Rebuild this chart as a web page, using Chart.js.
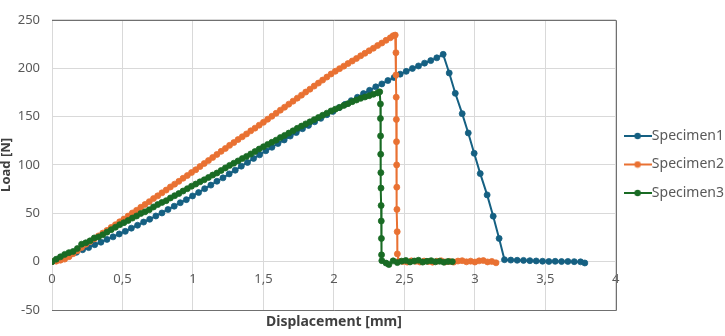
<!DOCTYPE html>
<html>
<head>
<meta charset="utf-8">
<script src="https://cdn.jsdelivr.net/npm/chart.js@4.4.1/dist/chart.umd.min.js"></script>
<style>
  html, body { margin: 0; padding: 0; background: #fff; overflow: hidden; }
  #wrap { width: 734px; height: 336px; position: relative; }
</style>
</head>
<body>
<div id="wrap"><canvas id="chart"></canvas></div>
<script>
const seriesNames = ["Specimen1", "Specimen2", "Specimen3"];
const seriesColors = ["#156082", "#E97132", "#196B24"];

const xTickLabels = ["0", "0,5", "1", "1,5", "2", "2,5", "3", "3,5", "4"];
const yTickValues = [-50, 0, 50, 100, 150, 200, 250];

// Specimen1
const s1x = [0, 0.043, 0.087, 0.13, 0.173, 0.217, 0.26, 0.303, 0.347, 0.39, 0.433, 0.477, 0.52, 0.563, 0.607,
  0.65, 0.693, 0.737, 0.78, 0.823, 0.867, 0.91, 0.953, 0.997, 1.04, 1.083, 1.127, 1.17, 1.213, 1.257, 1.3,
  1.343, 1.387, 1.43, 1.473, 1.517, 1.56, 1.603, 1.647, 1.69, 1.733, 1.777, 1.82, 1.863, 1.907, 1.95, 1.993,
  2.037, 2.08, 2.123, 2.167, 2.21, 2.253, 2.297, 2.34, 2.383, 2.427, 2.47, 2.513, 2.557, 2.6, 2.643, 2.687,
  2.73, 2.775,
  2.818, 2.861, 2.91, 2.953, 2.995, 3.038, 3.087, 3.13, 3.172, 3.21,
  3.255, 3.3, 3.345, 3.39, 3.435, 3.48, 3.525, 3.57, 3.615, 3.66, 3.705, 3.75, 3.78];
const s1y = [0, 2.3, 4.8, 7.4, 9.6, 12.3, 14.5, 17.5, 20.1, 23, 25.6, 28.6, 31.3, 34.6, 37.6,
  40.9, 43.8, 47.2, 50.3, 53.9, 57.3, 60.9, 64.1, 67.9, 71.4, 75.4, 79.1, 83.1, 86.6, 90.7, 94.5,
  98.7, 102.5, 106.7, 110.4, 114.6, 118.2, 122.1, 125.8, 129.8, 133.4, 137.4, 140.8, 144.6, 148.1, 151.9, 155.3,
  159.2, 162.6, 166.4, 169.9, 173.7, 177.1, 180.7, 183.7, 187.2, 190.3, 193.8, 196.7, 199.7, 202.3, 205.2, 207.8,
  210.7, 214.3,
  195, 174, 153, 133, 112, 91, 69, 47, 24, 2,
  1.6, 1.4, 1.3, 1, 0.7, 0.4, 0.2, 0.3, 0.1, 0.2, 0, -0.2, -1.4];

// Specimen2
const s2x = [0, 0.03, 0.06, 0.09, 0.12, 0.15, 0.18, 0.21, 0.24, 0.27, 0.3, 0.33, 0.36, 0.39, 0.42, 0.45, 0.48,
  0.51, 0.54, 0.57, 0.6, 0.63, 0.66, 0.69, 0.72, 0.75, 0.78, 0.81, 0.84, 0.87, 0.9, 0.93, 0.96, 0.99,
  1.02, 1.05, 1.08, 1.11, 1.14, 1.17, 1.2, 1.23, 1.26, 1.29, 1.32, 1.35, 1.38, 1.41, 1.44, 1.47, 1.5,
  1.53, 1.56, 1.59, 1.62, 1.65, 1.68, 1.71, 1.74, 1.77, 1.8, 1.83, 1.86, 1.89, 1.92, 1.95, 1.98,
  2.01, 2.04, 2.07, 2.1, 2.13, 2.16, 2.19, 2.22, 2.25, 2.28, 2.31, 2.34, 2.37, 2.4, 2.42, 2.435,
  2.44, 2.44, 2.442, 2.443, 2.444, 2.445, 2.446, 2.447, 2.449, 2.45, 2.46,
  2.49, 2.52, 2.55, 2.58, 2.61, 2.64, 2.67, 2.7, 2.73, 2.76, 2.79, 2.82, 2.85, 2.88, 2.91, 2.94,
  2.97, 3, 3.03, 3.06, 3.09, 3.12, 3.15];
const s2y = [0, 0.5, 1.5, 2.6, 5, 8.2, 11.3, 14.6, 18, 20.8, 23.5, 26.6, 29.5, 32.3, 35.4, 38.2, 41.2,
  44, 47.1, 50.3, 53, 56.2, 59.1, 62, 65.2, 68, 71.1, 74, 77.2, 80.1, 83, 86.2, 89, 92.1,
  95, 98.3, 101.4, 104.5, 107.7, 110.8, 114, 117, 120.2, 123.1, 126.2, 129.1, 132, 135.2, 138, 141.1, 144,
  147.2, 150.3, 153.4, 156.6, 159.6, 162.8, 165.9, 169, 172.1, 175.3, 178.3, 181.5, 184.6, 187.7, 190.8, 194,
  196.8, 199.5, 202.1, 204.8, 207.4, 210, 212.8, 215.4, 218, 220.6, 223.4, 226, 228.8, 231.4, 233.5, 234.2,
  216, 193, 170, 147, 124, 100, 77, 54, 31, 8, 0.5,
  0.2, -0.5, 0.8, 0.3, -0.4, 0.6, 0.1, -0.6, 0.4, 0.9, -0.3, 0.2, -0.5, 0.6, 1, -0.2,
  0.5, -0.4, 0.8, 1.1, -0.3, 0.2, -1.2];

// Specimen3
const s3x = [0, 0.03, 0.06, 0.09, 0.12, 0.15, 0.18, 0.21, 0.24, 0.27, 0.3, 0.33, 0.36, 0.39, 0.42, 0.45, 0.48,
  0.51, 0.54, 0.57, 0.6, 0.63, 0.66, 0.69, 0.72, 0.75, 0.78, 0.81, 0.84, 0.87, 0.9, 0.93, 0.96, 0.99,
  1.02, 1.05, 1.08, 1.11, 1.14, 1.17, 1.2, 1.23, 1.26, 1.29, 1.32, 1.35, 1.38, 1.41, 1.44, 1.47, 1.5,
  1.53, 1.56, 1.59, 1.62, 1.65, 1.68, 1.71, 1.74, 1.77, 1.8, 1.83, 1.86, 1.89, 1.92, 1.95, 1.98,
  2.01, 2.04, 2.07, 2.1, 2.13, 2.16, 2.19, 2.22, 2.25, 2.28, 2.31, 2.325,
  2.33, 2.33, 2.331, 2.332, 2.333, 2.334, 2.335, 2.336, 2.337, 2.338, 2.34,
  2.37, 2.39, 2.42, 2.45, 2.48, 2.51, 2.54, 2.57, 2.6, 2.63, 2.66, 2.69, 2.72, 2.75, 2.78, 2.81, 2.84];
const s3y = [0, 2.5, 5, 7.5, 9.3, 10.5, 13.5, 18, 19.5, 21.5, 24.5, 25.5, 27.8, 30.5, 33, 35.5, 38.2,
  40.3, 42.5, 45, 47.2, 49.8, 51.5, 53.6, 56.5, 59, 61.2, 63, 65.8, 68.2, 70.4, 73, 75.4, 78,
  80.2, 82.5, 84.6, 87, 89.5, 91.6, 94.2, 96.9, 99.5, 101.8, 104.1, 106.5, 108.8, 111.3, 113.8, 116.4, 118.8,
  121.2, 123.4, 125.6, 128.2, 130.5, 132.9, 135.2, 137.8, 140.1, 142.4, 144.5, 146.8, 149, 151.3, 153.5, 155.8,
  157.6, 159.4, 161.5, 163.3, 165.4, 167.1, 168.8, 170.2, 171.5, 173, 174.4, 175.5,
  163, 148, 130, 111, 92, 76, 58, 42, 24, 7, 1,
  -1.5, -3, 0.8, -1, 0.5, 1.2, -0.3, 0.6, 1.4, -0.5, 0.3, 1, -0.2, 0.4, -0.6, 0.2, 0];

const seriesX = [s1x, s2x, s3x];
const seriesY = [s1y, s2y, s3y];

const fontFamily = "'Noto Sans', 'Open Sans', sans-serif";

function legendIcon(color) {
  const c = document.createElement("canvas");
  c.width = 28;
  c.height = 8;
  const g = c.getContext("2d");
  g.strokeStyle = color;
  g.lineWidth = 2;
  g.beginPath();
  g.moveTo(0, 4);
  g.lineTo(28, 4);
  g.stroke();
  g.fillStyle = color;
  g.beginPath();
  g.arc(14, 4, 3.2, 0, Math.PI * 2);
  g.fill();
  return c;
}

// dark frame on top, right and bottom of the plot area
const plotFrame = {
  id: "plotFrame",
  afterLayout(chart) {
    // legend sits a bit higher than the centre of its box
    if (chart.legend) chart.legend.bottom = 318;
  },
  beforeDatasetsDraw(chart) {
    const { ctx, chartArea: a } = chart;
    ctx.save();
    ctx.strokeStyle = "#707070";
    ctx.lineWidth = 1;
    ctx.beginPath();
    ctx.moveTo(a.left, Math.round(a.top) + 0.5);
    ctx.lineTo(Math.round(a.right) + 0.5, Math.round(a.top) + 0.5);
    ctx.lineTo(Math.round(a.right) + 0.5, Math.round(a.bottom) + 0.5);
    ctx.lineTo(a.left, Math.round(a.bottom) + 0.5);
    ctx.stroke();
    ctx.restore();
  },
};

const datasets = seriesNames.map((name, i) => ({
  label: name,
  data: seriesX[i].map((x, j) => ({ x, y: seriesY[i][j] })),
  showLine: true,
  borderColor: seriesColors[i],
  backgroundColor: seriesColors[i],
  borderWidth: 2,
  pointRadius: 3,
  pointBorderWidth: 0.8,
  pointBorderColor: seriesColors[i],
  pointBackgroundColor: seriesColors[i],
  order: 3 - i,
}));

new Chart(document.getElementById("chart"), {
  type: "scatter",
  data: { datasets },
  options: {
    responsive: true,
    maintainAspectRatio: false,
    animation: false,
    layout: { padding: { top: 11, right: 0, bottom: 0, left: 0 } },
    plugins: {
      tooltip: { enabled: false },
      legend: {
        position: "right",
        align: "center",
        labels: {
          usePointStyle: true,
          pointStyleWidth: 14.5,
          padding: 14.5,
          color: "#595959",
          font: { family: fontFamily, size: 14 },
          generateLabels: (chart) =>
            chart.data.datasets.map((ds, i) => ({
              text: ds.label,
              fillStyle: ds.backgroundColor,
              strokeStyle: ds.borderColor,
              lineWidth: 0,
              pointStyle: legendIcon(ds.borderColor),
              hidden: false,
              datasetIndex: i,
              fontColor: "#595959",
            })),
        },
      },
    },
    scales: {
      x: {
        type: "linear",
        position: "bottom",
        min: 0,
        max: 4,
        ticks: { display: false, stepSize: 0.5 },
        grid: { color: "#d9d9d9", lineWidth: 1, drawTicks: false },
        border: { display: false },
        title: {
          display: true,
          text: "Displacement [mm]",
          color: "#404040",
          font: { family: fontFamily, size: 14, weight: "bold" },
          padding: { top: 0, bottom: 6 },
        },
        afterFit: (scale) => { scale.height = 26; },
      },
      xt: {
        type: "linear",
        position: { y: 0 },
        min: 0,
        max: 4,
        grid: { display: false, drawTicks: false },
        border: { display: false },
        afterBuildTicks: (scale) => {
          scale.ticks = xTickLabels.map((t, i) => ({ value: i * 0.5 }));
        },
        ticks: {
          autoSkip: false,
          maxRotation: 0,
          padding: 10,
          color: "#595959",
          font: { family: fontFamily, size: 13 },
          callback: (v, i) => xTickLabels[i],
        },
      },
      y: {
        type: "linear",
        min: -50,
        max: 250,
        afterBuildTicks: (scale) => {
          scale.ticks = yTickValues.map((v) => ({ value: v }));
        },
        ticks: {
          padding: 12,
          color: "#595959",
          font: { family: fontFamily, size: 13 },
        },
        grid: { color: "#d9d9d9", lineWidth: 1, drawTicks: false },
        border: { display: false },
        title: {
          display: true,
          text: "Load [N]",
          color: "#404040",
          font: { family: fontFamily, size: 13, weight: "bold", lineHeight: 0.9 },
          padding: { top: 0, bottom: 0 },
        },
        afterFit: (scale) => { scale.width = 52; },
      },
    },
  },
  plugins: [plotFrame],
});
</script>
</body>
</html>
